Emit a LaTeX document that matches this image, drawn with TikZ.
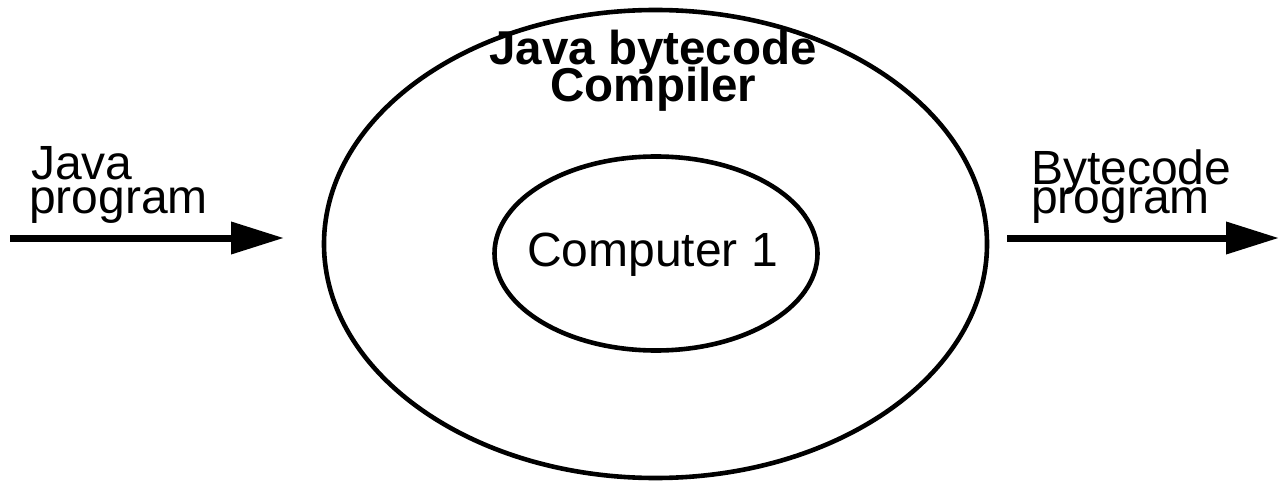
\documentclass[tikz,border=0pt]{standalone}
\usepackage{fontspec}
\setmainfont{Liberation Sans}
\usetikzlibrary{arrows.meta}
\begin{document}
\begin{tikzpicture}[x=1pt,y=1pt,
  lbl/.style={inner sep=0pt,font=\fontsize{48}{48}\selectfont},
  ttl/.style={inner sep=0pt,font=\fontsize{47.5}{47.5}\selectfont\bfseries},
  flow/.style={line width=7pt,-{Triangle[length=53pt,width=31pt]}}]
\useasboundingbox (0,0) rectangle (1284,-489);
\draw[line width=4.6pt] (655.5,-244) ellipse [x radius=331.5, y radius=234];
\draw[line width=4.6pt] (656,-253.5) ellipse [x radius=161.5, y radius=97];
\node[ttl,anchor=base] (t1) at (653,-65) {Java bytecode};
\node[ttl,anchor=base] (t2) at (653.5,-102) {Compiler};
\node[lbl,anchor=base] (c1) at (652.5,-266) {Computer 1};
\node[lbl,anchor=base west] (j1) at (31,-179) {Java};
\node[lbl,anchor=base west] (j2) at (29,-213) {program};
\node[lbl,anchor=base west] (b1) at (1031,-185) {Bytecode};
\node[lbl,anchor=base west] (b2) at (1031,-214) {program};
\coordinate (ls) at (10,-238);
\coordinate (le) at (284,-238);
\coordinate (rs) at (1007,-238);
\coordinate (re) at (1279,-238);
\draw[flow] (ls) -- (le);
\draw[flow] (rs) -- (re);
\end{tikzpicture}
\end{document}
